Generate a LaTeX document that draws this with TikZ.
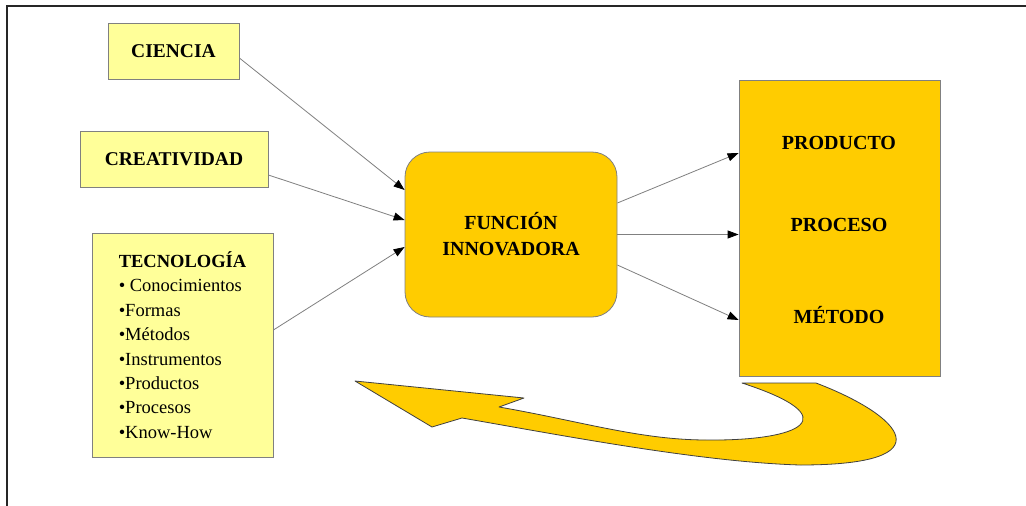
\documentclass[tikz,border=0pt]{standalone}
\usepackage{fontspec}
\setmainfont{Liberation Serif}
\usetikzlibrary{arrows.meta,positioning}
\definecolor{amarillo}{HTML}{FFFF99}
\definecolor{oro}{HTML}{FFCC00}

\begin{document}
\begin{tikzpicture}[x=1pt,y=-1pt,
    caja/.style={rectangle,draw=black!50,line width=0.8pt,fill=amarillo,inner sep=0pt,
        font=\fontsize{19.5}{24}\selectfont\bfseries},
    cajaoro/.style={rectangle,draw=black!50,line width=0.8pt,fill=oro,inner sep=0pt,
        font=\fontsize{20}{26}\selectfont\bfseries},
    rotulo/.style={font=\fontsize{20}{24}\selectfont\bfseries},
    flecha/.style={draw=black!50,line width=0.8pt,-{Triangle[length=11pt,width=8pt,color=black]}}]
    \useasboundingbox (0,0) rectangle (1026,506);
    \fill[white] (0,0) rectangle (1026,506);

    % marco
    \draw[line width=2pt,black!85] (7,506) -- (7,6) -- (1026,6);

    % flecha curva de retorno
    \draw[fill=oro,draw=black!75,line width=0.8pt,line join=round]
        (355,381) -- (524,398) -- (499,407)
        .. controls (580,421) and (640,440) .. (707,440)
        .. controls (800,441) and (850,418) .. (742,383)
        -- (816,383)
        .. controls (900,415) and (950,465) .. (800,465)
        .. controls (700,462) and (560,435) .. (462,418)
        -- (432,427) -- cycle;

    \node[caja,minimum width=131pt,minimum height=56pt] (ciencia) at (173.5,51) {CIENCIA};
    \node[caja,minimum width=188pt,minimum height=56pt] (creatividad) at (174,159) {CREATIVIDAD};
    \node[caja,minimum width=181pt,minimum height=224pt,align=left,font=\fontsize{18.5}{24.4}\selectfont] (tecnologia) at (182.5,345)
        {\textbf{TECNOLOGÍA}\\• Conocimientos\\•Formas\\•Métodos\\•Instrumentos\\•Productos\\•Procesos\\•Know-How};

    \node[cajaoro,rounded corners=25pt,minimum width=212pt,minimum height=165pt,align=center] (funcion) at (511,234.5)
        {FUNCIÓN\\INNOVADORA};

    \node[cajaoro,minimum width=201pt,minimum height=296pt] (salida) at (839.5,228) {};
    \node[rotulo] (producto) at (839,143) {PRODUCTO};
    \node[rotulo] (proceso) at (839,225) {PROCESO};
    \node[rotulo] (metodo) at (839,315) {MÉTODO};

    \draw[flecha] ([yshift=-7pt]ciencia.east) -- ([yshift=44.5pt]funcion.west);
    \draw[flecha] ([yshift=-16pt]creatividad.east) -- ([yshift=14.5pt]funcion.west);
    \draw[flecha] ([yshift=15pt]tecnologia.east) -- ([yshift=-12.5pt]funcion.west);

    \draw[flecha] ([yshift=31.5pt]funcion.east) -- ([yshift=75pt]salida.west);
    \draw[flecha] (funcion.east) -- (funcion.east -| salida.west);
    \draw[flecha] ([yshift=-30.5pt]funcion.east) -- ([yshift=-92pt]salida.west);
\end{tikzpicture}
\end{document}
